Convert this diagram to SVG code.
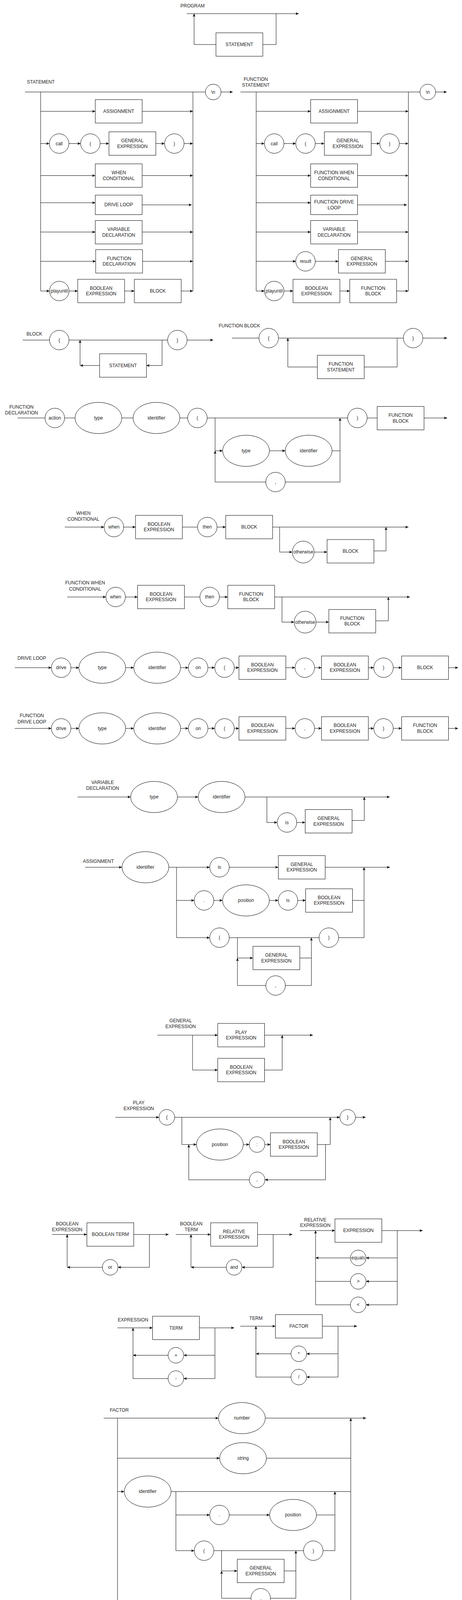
<svg xmlns="http://www.w3.org/2000/svg" width="1183" height="4601" viewBox="0 0 1183 4601">
<defs>
<marker id="arr" viewBox="0 0 8 8" refX="8" refY="4" markerWidth="8" markerHeight="8" markerUnits="userSpaceOnUse" orient="auto">
<path d="M0,0.5 L8,4 L0,7.5 L2,4 Z" fill="#000"/>
</marker>
<style>
rect,ellipse,circle{fill:#fff;stroke:#000;stroke-width:1}
.c path{fill:none;stroke:#000;stroke-width:1}
.c path.a{marker-end:url(#arr)}
text{font-family:"Liberation Sans",Arial,Helvetica,sans-serif;font-size:12px;fill:#222;text-anchor:middle}
</style>
</defs>
<rect x="0" y="0" width="1183" height="4601" style="fill:#fff;stroke:none"/>

<!-- ===== section titles ===== -->
<g id="titles">
<text x="493" y="19">PROGRAM</text>
<text x="104.5" y="214">STATEMENT</text>
<text x="655" y="207">FUNCTION</text><text x="655" y="221.5">STATEMENT</text>
<text x="88" y="858.6">BLOCK</text>
<text x="613" y="838.2">FUNCTION BLOCK</text>
<text x="55" y="1046.3">FUNCTION</text><text x="55" y="1061.3">DECLARATION</text>
<text x="213.5" y="1317.7">WHEN</text><text x="213.5" y="1333">CONDITIONAL</text>
<text x="218" y="1496.3">FUNCTION WHEN</text><text x="218" y="1512">CONDITIONAL</text>
<text x="81.5" y="1689.3">DRIVE LOOP</text>
<text x="81.5" y="1836.3">FUNCTION</text><text x="81.5" y="1851.7">DRIVE LOOP</text>
<text x="262.8" y="2006.8">VARIABLE</text><text x="262.8" y="2021.7">DECLARATION</text>
<text x="251.9" y="2208.9">ASSIGNMENT</text>
<text x="462.4" y="2616.7">GENERAL</text><text x="462.4" y="2631.7">EXPRESSION</text>
<text x="355.2" y="2826.7">PLAY</text><text x="355.2" y="2841.7">EXPRESSION</text>
<text x="172" y="3137">BOOLEAN</text><text x="172" y="3152">EXPRESSION</text>
<text x="489.7" y="3137">BOOLEAN</text><text x="489.7" y="3152">TERM</text>
<text x="807.3" y="3127">RELATIVE</text><text x="807.3" y="3141.3">EXPRESSION</text>
<text x="340.6" y="3383">EXPRESSION</text>
<text x="655.3" y="3378.8">TERM</text>
<text x="305.4" y="3613.7">FACTOR</text>
</g>

<!-- ===== connectors ===== -->
<g id="connectors" class="c">
<!-- PROGRAM -->
<path class="a" d="M478,35 H765"/>
<path class="a" d="M553,114 H497 V35"/>
<path d="M673,114 H707 V35"/>

<!-- STATEMENT -->
<path d="M64,235.5 H526"/>
<path class="a" d="M566,235.5 H596"/>
<path d="M104,235.5 V745"/>
<path d="M494,235.5 V745"/>
<path class="a" d="M104,285 H244"/><path class="a" d="M364,285 H494"/>
<path class="a" d="M104,367.5 H126.4"/><path class="a" d="M176.4,367.5 H206.4"/><path class="a" d="M256.4,367.5 H279"/><path class="a" d="M399,367.5 H421.3"/><path class="a" d="M471.3,367.5 H494"/>
<path class="a" d="M104,449.5 H244"/><path class="a" d="M364,449.5 H494"/>
<path class="a" d="M104,519 H244"/><path class="a" d="M364,524.5 H491"/>
<path class="a" d="M104,594 H244"/><path class="a" d="M364,594 H494"/>
<path class="a" d="M104,669 H245"/><path class="a" d="M365,669 H494"/>
<path class="a" d="M104,745 H126.8"/><path class="a" d="M176.8,745 H199"/><path class="a" d="M319,745 H344"/><path class="a" d="M464,745 H494"/>

<!-- FUNCTION STATEMENT -->
<path d="M615.6,235.5 H1075.4"/>
<path class="a" d="M1115.4,235.5 H1144"/>
<path d="M656,235.5 V745"/>
<path d="M1045.7,235.5 V745"/>
<path class="a" d="M656,285 H795.5"/><path class="a" d="M915.5,285 H1045.7"/>
<path class="a" d="M656,367.5 H677.1"/><path class="a" d="M727.1,367.5 H757.3"/><path class="a" d="M807.3,367.5 H830.5"/><path class="a" d="M950.5,367.5 H972.5"/><path class="a" d="M1022.5,367.5 H1045.7"/>
<path class="a" d="M656,449.5 H795.5"/><path class="a" d="M915.5,449.5 H1045.7"/>
<path class="a" d="M656,519 H795.5"/><path class="a" d="M915.5,524.5 H1042"/>
<path class="a" d="M656,594 H795.5"/><path class="a" d="M915.5,594 H1045.7"/>
<path class="a" d="M656,669 H757.3"/><path class="a" d="M807.3,669 H866.6"/><path class="a" d="M986.6,669 H1045.7"/>
<path class="a" d="M656,745 H677.1"/><path class="a" d="M727.1,745 H750.3"/><path class="a" d="M870.3,745 H895.6"/><path class="a" d="M1015.6,745 H1045.7"/>

<!-- BLOCK -->
<path d="M58,870.6 H126.7"/>
<path d="M176.7,870.6 H429.2"/>
<path class="a" d="M479.2,870.6 H546"/>
<path class="a" d="M415,870.6 V935.7 H375"/>
<path class="a" d="M255,935.7 H205"/>
<path class="a" d="M205,935.7 V870.6"/>

<!-- FUNCTION BLOCK -->
<path d="M593.8,865.5 H663.1"/>
<path d="M713.1,865.5 H1032.8"/>
<path class="a" d="M1082.8,865.5 H1145"/>
<path d="M1017,865.5 V939.5 H932.6"/>
<path class="a" d="M812.6,939.5 H737 V865.5"/>

<!-- FUNCTION DECLARATION -->
<path d="M45,1070 H115.3"/>
<path d="M165.3,1070 H192"/>
<path d="M312,1070 H340.6"/>
<path d="M460.6,1070 H480.5"/>
<path d="M530.5,1070 H890.2"/>
<path d="M940.2,1070 H965.8"/>
<path class="a" d="M1085.8,1070 H1145"/>
<path class="a" d="M550.8,1070 V1154 H570"/>
<path class="a" d="M680.5,1234 H550.8 V1154"/>
<path class="a" d="M690,1154 H730.3"/>
<path d="M850.3,1154 H870.7"/>
<path d="M730.5,1234 H870.7"/>
<path class="a" d="M870.7,1234 V1070"/>

<!-- WHEN CONDITIONAL -->
<path class="a" d="M166,1349.3 H266.6"/>
<path class="a" d="M316.6,1349.3 H347"/>
<path d="M467,1349.3 H505.8"/>
<path class="a" d="M555.8,1349.3 H578"/>
<path class="a" d="M698,1349.3 H1045.7"/>
<path class="a" d="M716,1349.3 V1413.3 H748.4"/>
<path class="a" d="M804.4,1413.3 H837.5"/>
<path class="a" d="M957.5,1410.3 H988.4 V1349.3"/>

<!-- FUNCTION WHEN CONDITIONAL -->
<path class="a" d="M172,1528.3 H271.1"/>
<path class="a" d="M321.1,1528.3 H352.3"/>
<path d="M472.3,1528.3 H511.8"/>
<path class="a" d="M561.8,1528.3 H583.2"/>
<path class="a" d="M703.2,1528.3 H1049.5"/>
<path class="a" d="M722,1528.3 V1592.6 H753.3"/>
<path class="a" d="M809.3,1592.6 H842"/>
<path class="a" d="M962,1589.3 H994.4 V1528.3"/>

<!-- DRIVE LOOP -->
<path class="a" d="M37.7,1709.3 H131.6"/>
<path class="a" d="M181.6,1709.3 H202.2"/>
<path class="a" d="M321.8,1709.3 H342.5"/>
<path class="a" d="M462.5,1709.3 H482.4"/>
<path class="a" d="M532.4,1709.3 H549.9"/>
<path class="a" d="M599.9,1709.3 H611.9"/>
<path class="a" d="M731.9,1709.3 H755.5"/>
<path class="a" d="M805.5,1709.3 H823.2"/>
<path class="a" d="M943.2,1709.3 H957"/>
<path class="a" d="M1007,1709.3 H1028.4"/>
<path class="a" d="M1148.4,1709.3 H1173"/>

<!-- FUNCTION DRIVE LOOP -->
<path class="a" d="M37.7,1864.7 H131.6"/>
<path class="a" d="M181.6,1864.7 H202.2"/>
<path class="a" d="M321.8,1864.7 H342.5"/>
<path class="a" d="M462.5,1864.7 H482.4"/>
<path class="a" d="M532.4,1864.7 H549.9"/>
<path class="a" d="M599.9,1864.7 H611.9"/>
<path class="a" d="M731.9,1864.7 H755.5"/>
<path class="a" d="M805.5,1864.7 H823.2"/>
<path class="a" d="M943.2,1864.7 H957"/>
<path class="a" d="M1007,1864.7 H1028.4"/>
<path class="a" d="M1148.4,1864.7 H1173"/>

<!-- VARIABLE DECLARATION -->
<path class="a" d="M198.8,2040.3 H334.5"/>
<path class="a" d="M454.5,2040.3 H507.4"/>
<path class="a" d="M627.4,2040.3 H998"/>
<path class="a" d="M683.4,2040.3 V2105.5 H709.9"/>
<path class="a" d="M759.9,2105.5 H781.5"/>
<path class="a" d="M901.5,2100.4 H932.8 V2040.3"/>

<!-- ASSIGNMENT -->
<path class="a" d="M217.8,2220.2 H312.3"/>
<path class="a" d="M432.3,2220.2 H537"/>
<path class="a" d="M587,2220.2 H712.7"/>
<path class="a" d="M832.7,2220.2 H998.4"/>
<path d="M452,2220.2 V2400.4"/>
<path class="a" d="M452,2305.1 H497.4"/>
<path class="a" d="M547.4,2305.1 H569.8"/>
<path class="a" d="M689.8,2305.1 H712.4"/>
<path class="a" d="M762.4,2305.1 H782.6"/>
<path d="M902.6,2305.1 H932.2"/>
<path class="a" d="M932.2,2400.4 V2220.2"/>
<path class="a" d="M452,2400.4 H537"/>
<path d="M587,2400.4 H817"/>
<path d="M867,2400.4 H932.2"/>
<path class="a" d="M608,2400.4 V2452.5 H647.7"/>
<path d="M767.7,2452.5 H797.3"/>
<path class="a" d="M797.3,2522.9 V2400.4"/>
<path class="a" d="M680.7,2522.9 H608 V2452.5"/>
<path d="M730.7,2522.9 H797.3"/>

<!-- GENERAL EXPRESSION -->
<path class="a" d="M403,2650 H557.5"/>
<path class="a" d="M677.5,2650 H801"/>
<path class="a" d="M493,2650 V2739.3 H557.5"/>
<path class="a" d="M677.5,2739.3 H722.6 V2650"/>

<!-- PLAY EXPRESSION -->
<path class="a" d="M295.4,2860.3 H407.2"/>
<path class="a" d="M447.2,2860.3 H870.2"/>
<path class="a" d="M910.2,2860.3 H936.4"/>
<path class="a" d="M465.7,2860.3 V2930 H503"/>
<path class="a" d="M623,2930 H638.2"/>
<path class="a" d="M678.2,2930 H692.4"/>
<path class="a" d="M812.4,2930 H845.5 V2860.3"/>
<path class="a" d="M833.5,2930 V3020.3 H678.4"/>
<path class="a" d="M638.4,3020.3 H483.4 V2930"/>

<!-- BOOLEAN EXPRESSION -->
<path class="a" d="M133.2,3160.3 H222.5"/>
<path class="a" d="M342.5,3160.3 H431.7"/>
<path class="a" d="M382.5,3160.3 V3244.3 H302.1"/>
<path class="a" d="M262.1,3244.3 H172"/>
<path class="a" d="M172,3244.3 V3160.3"/>

<!-- BOOLEAN TERM -->
<path class="a" d="M450.2,3160.3 H539.4"/>
<path class="a" d="M659.4,3160.3 H748.6"/>
<path class="a" d="M699.5,3160.3 V3244.3 H619.4"/>
<path class="a" d="M579.4,3244.3 H489"/>
<path class="a" d="M489,3244.3 V3160.3"/>

<!-- RELATIVE EXPRESSION -->
<path class="a" d="M767.8,3150.3 H857.7"/>
<path class="a" d="M977.7,3150.3 H1082.2"/>
<path d="M1017.2,3150.3 V3340.3"/>
<path class="a" d="M1017.2,3220.3 H937.3"/>
<path class="a" d="M897.3,3220.3 H808"/>
<path class="a" d="M1017.2,3280.3 H937.3"/>
<path d="M897.3,3280.3 H808"/>
<path class="a" d="M1017.2,3340.3 H937.3"/>
<path d="M897.3,3340.3 H808"/>
<path class="a" d="M808,3340.3 V3150.3"/>

<!-- EXPRESSION -->
<path class="a" d="M300.4,3399.3 H390.6"/>
<path class="a" d="M510.6,3399.3 H599.5"/>
<path d="M550.4,3399.3 V3529.1"/>
<path class="a" d="M550.4,3469.5 H470.4"/>
<path class="a" d="M430.4,3469.5 H340.6"/>
<path class="a" d="M550.4,3529.1 H470.4"/>
<path class="a" d="M430.4,3529.1 H340.6 V3399.3"/>

<!-- TERM -->
<path class="a" d="M615.2,3395.1 H705.3"/>
<path class="a" d="M825.3,3395.1 H914.2"/>
<path d="M865.6,3395.1 V3525.3"/>
<path class="a" d="M865.6,3465.7 H785.1"/>
<path class="a" d="M745.1,3465.7 H655.3"/>
<path class="a" d="M865.6,3525.3 H785.1"/>
<path class="a" d="M745.1,3525.3 H655.3 V3395.1"/>

<!-- FACTOR -->
<path class="a" d="M265.6,3630.4 H559.4"/>
<path class="a" d="M679.4,3630.4 H937.4"/>
<path d="M300.9,3630.4 V4559.1"/>
<path class="a" d="M898.2,4559.1 V3630.4"/>
<path class="a" d="M300.9,3733 H562.3"/>
<path d="M682.3,3733 H898.2"/>
<path class="a" d="M300.9,3818.4 H318.1"/>
<path d="M438.1,3818.4 H898.2"/>
<path d="M450.4,3818.4 V3969.7"/>
<path class="a" d="M450.4,3878.3 H537"/>
<path class="a" d="M587,3878.3 H690.4"/>
<path d="M810.4,3878.3 H857.6"/>
<path class="a" d="M857.6,3969.7 V3818.4"/>
<path class="a" d="M450.4,3969.7 H497.5"/>
<path d="M547.5,3969.7 H777.2"/>
<path d="M827.2,3969.7 H857.6"/>
<path class="a" d="M567.4,3969.7 V4021.6 H607.6"/>
<path d="M727.6,4021.6 H757.6"/>
<path class="a" d="M757.6,4091.5 V3969.7"/>
<path class="a" d="M642.6,4091.5 H567.4 V4021.6"/>
<path d="M692.6,4091.5 H757.6"/>
<path class="a" d="M300.9,4168.3 H560.3"/>
<path d="M680.3,4168.3 H898.2"/>
<path class="a" d="M300.9,4267.6 H473.5"/>
<path class="a" d="M513.5,4267.6 H563.4"/>
<path d="M683.4,4268 H898.2"/>
<path class="a" d="M300.9,4317.3 H473.5"/>
<path class="a" d="M513.5,4317.3 H543.3 V4267.6"/>
<path class="a" d="M300.9,4366.9 H473.5"/>
<path class="a" d="M513.5,4366.9 H543.3 V4317.3"/>
<path class="a" d="M300.9,4416.1 H472.6"/>
<path class="a" d="M512.6,4416.1 H543.3 V4366.9"/>
<path class="a" d="M300.9,4466.2 H472.4"/>
<path class="a" d="M512.4,4466.2 H560.2"/>
<path class="a" d="M680.2,4466.2 H729.3"/>
<path d="M769.3,4466.2 H898.2"/>
<path class="a" d="M300.9,4559.1 H480.4"/>
<path class="a" d="M600.4,4559.1 H648.5"/>
<path class="a" d="M688.5,4559.1 H723.5"/>
<path d="M763.5,4559.1 H898.2"/>
</g>

<!-- ===== nodes ===== -->
<!-- PROGRAM -->
<g id="prog-statement"><rect x="553" y="84" width="120" height="60"/><text x="613" y="118">STATEMENT</text></g>

<!-- STATEMENT -->
<g id="st-newline"><circle cx="546" cy="235.5" r="20"/><text x="546" y="239.5">\n</text></g>
<g id="st-assignment"><rect x="244" y="255" width="120" height="60"/><text x="304" y="289">ASSIGNMENT</text></g>
<g id="st-call"><circle cx="151.4" cy="367.5" r="25"/><text x="151.4" y="371.5">call</text></g>
<g id="st-lparen"><circle cx="231.4" cy="367.5" r="25"/><text x="231.4" y="371.5">(</text></g>
<g id="st-genexpr"><rect x="279" y="337.5" width="120" height="60"/><text x="339" y="364">GENERAL</text><text x="339" y="378.5">EXPRESSION</text></g>
<g id="st-rparen"><circle cx="446.3" cy="367.5" r="25"/><text x="446.3" y="371.5">)</text></g>
<g id="st-when"><rect x="244" y="419.5" width="120" height="60"/><text x="304" y="446">WHEN</text><text x="304" y="460.5">CONDITIONAL</text></g>
<g id="st-drive"><rect x="244" y="499.5" width="120" height="50"/><text x="304" y="527.5">DRIVE LOOP</text></g>
<g id="st-vardecl"><rect x="244" y="564.5" width="120" height="60"/><text x="304" y="591">VARIABLE</text><text x="304" y="605.5">DECLARATION</text></g>
<g id="st-funcdecl"><rect x="245" y="639" width="120" height="60"/><text x="305" y="665.5">FUNCTION</text><text x="305" y="680">DECLARATION</text></g>
<g id="st-playuntil"><circle cx="151.8" cy="745" r="25"/><text x="151.8" y="749">playuntil</text></g>
<g id="st-boolexpr"><rect x="199" y="715" width="120" height="60"/><text x="259" y="741.5">BOOLEAN</text><text x="259" y="756">EXPRESSION</text></g>
<g id="st-block"><rect x="344" y="715" width="120" height="60"/><text x="404" y="749">BLOCK</text></g>

<!-- FUNCTION STATEMENT -->
<g id="fs-newline"><circle cx="1095.4" cy="235.5" r="20"/><text x="1095.4" y="239.5">\n</text></g>
<g id="fs-assignment"><rect x="795.5" y="255" width="120" height="60"/><text x="855.5" y="289">ASSIGNMENT</text></g>
<g id="fs-call"><circle cx="702.1" cy="367.5" r="25"/><text x="702.1" y="371.5">call</text></g>
<g id="fs-lparen"><circle cx="782.3" cy="367.5" r="25"/><text x="782.3" y="371.5">(</text></g>
<g id="fs-genexpr"><rect x="830.5" y="337.5" width="120" height="60"/><text x="890.5" y="364">GENERAL</text><text x="890.5" y="378.5">EXPRESSION</text></g>
<g id="fs-rparen"><circle cx="997.5" cy="367.5" r="25"/><text x="997.5" y="371.5">)</text></g>
<g id="fs-when"><rect x="795.5" y="419.5" width="120" height="60"/><text x="855.5" y="446">FUNCTION WHEN</text><text x="855.5" y="460.5">CONDITIONAL</text></g>
<g id="fs-drive"><rect x="795.5" y="499.5" width="120" height="50"/><text x="855.5" y="521">FUNCTION DRIVE</text><text x="855.5" y="535.5">LOOP</text></g>
<g id="fs-vardecl"><rect x="795.5" y="564.5" width="120" height="60"/><text x="855.5" y="591">VARIABLE</text><text x="855.5" y="605.5">DECLARATION</text></g>
<g id="fs-result"><circle cx="782.3" cy="669" r="25"/><text x="782.3" y="673">result</text></g>
<g id="fs-result-genexpr"><rect x="866.6" y="639" width="120" height="60"/><text x="926.6" y="665.5">GENERAL</text><text x="926.6" y="680">EXPRESSION</text></g>
<g id="fs-playuntil"><circle cx="702.1" cy="745" r="25"/><text x="702.1" y="749">playuntil</text></g>
<g id="fs-boolexpr"><rect x="750.3" y="715" width="120" height="60"/><text x="810.3" y="741.5">BOOLEAN</text><text x="810.3" y="756">EXPRESSION</text></g>
<g id="fs-funcblock"><rect x="895.6" y="715" width="120" height="60"/><text x="955.6" y="741.5">FUNCTION</text><text x="955.6" y="756">BLOCK</text></g>

<!-- BLOCK -->
<g id="bl-lbrace"><circle cx="151.7" cy="870.6" r="25"/><text x="151.7" y="874.6">{</text></g>
<g id="bl-rbrace"><circle cx="454.2" cy="870.6" r="25"/><text x="454.2" y="874.6">}</text></g>
<g id="bl-statement"><rect x="255" y="905.7" width="120" height="60"/><text x="315" y="939.7">STATEMENT</text></g>

<!-- FUNCTION BLOCK -->
<g id="fb-lbrace"><circle cx="688.1" cy="865.5" r="25"/><text x="688.1" y="869.5">{</text></g>
<g id="fb-rbrace"><circle cx="1057.8" cy="865.5" r="25"/><text x="1057.8" y="869.5">}</text></g>
<g id="fb-statement"><rect x="812.6" y="909.5" width="120" height="60"/><text x="872.6" y="936">FUNCTION</text><text x="872.6" y="950.5">STATEMENT</text></g>

<!-- FUNCTION DECLARATION -->
<g id="fd-action"><circle cx="140.3" cy="1070" r="25"/><text x="140.3" y="1074">action</text></g>
<g id="fd-type"><ellipse cx="252" cy="1070" rx="60" ry="40"/><text x="252" y="1074">type</text></g>
<g id="fd-identifier"><ellipse cx="400.6" cy="1070" rx="60" ry="40"/><text x="400.6" y="1074">identifier</text></g>
<g id="fd-lparen"><circle cx="505.5" cy="1070" r="25"/><text x="505.5" y="1074">(</text></g>
<g id="fd-rparen"><circle cx="915.2" cy="1070" r="25"/><text x="915.2" y="1074">)</text></g>
<g id="fd-funcblock"><rect x="965.8" y="1040.5" width="120" height="60"/><text x="1025.8" y="1067">FUNCTION</text><text x="1025.8" y="1081.5">BLOCK</text></g>
<g id="fd-type2"><ellipse cx="630" cy="1154" rx="60" ry="40"/><text x="630" y="1158">type</text></g>
<g id="fd-identifier2"><ellipse cx="790.3" cy="1154" rx="60" ry="40"/><text x="790.3" y="1158">identifier</text></g>
<g id="fd-comma"><circle cx="705.5" cy="1234" r="25"/><text x="705.5" y="1238">,</text></g>

<!-- WHEN CONDITIONAL -->
<g id="wc-when"><circle cx="291.6" cy="1349.3" r="25"/><text x="291.6" y="1353.3">when</text></g>
<g id="wc-boolexpr"><rect x="347" y="1319.3" width="120" height="60"/><text x="407" y="1345.8">BOOLEAN</text><text x="407" y="1360.3">EXPRESSION</text></g>
<g id="wc-then"><circle cx="530.8" cy="1349.3" r="25"/><text x="530.8" y="1353.3">then</text></g>
<g id="wc-block"><rect x="578" y="1319.3" width="120" height="60"/><text x="638" y="1353.3">BLOCK</text></g>
<g id="wc-otherwise"><circle cx="776.4" cy="1413.3" r="28"/><text x="776.4" y="1417.3">otherwise</text></g>
<g id="wc-block2"><rect x="837.5" y="1381.3" width="120" height="60"/><text x="897.5" y="1415.3">BLOCK</text></g>

<!-- FUNCTION WHEN CONDITIONAL -->
<g id="fwc-when"><circle cx="296.1" cy="1528.3" r="25"/><text x="296.1" y="1532.3">when</text></g>
<g id="fwc-boolexpr"><rect x="352.3" y="1498.3" width="120" height="60"/><text x="412.3" y="1524.8">BOOLEAN</text><text x="412.3" y="1539.3">EXPRESSION</text></g>
<g id="fwc-then"><circle cx="536.8" cy="1528.3" r="25"/><text x="536.8" y="1532.3">then</text></g>
<g id="fwc-funcblock"><rect x="583.2" y="1498.3" width="120" height="60"/><text x="643.2" y="1524.8">FUNCTION</text><text x="643.2" y="1539.3">BLOCK</text></g>
<g id="fwc-otherwise"><circle cx="781.3" cy="1592.6" r="28"/><text x="781.3" y="1596.6">otherwise</text></g>
<g id="fwc-funcblock2"><rect x="842" y="1560.3" width="120" height="60"/><text x="902" y="1586.8">FUNCTION</text><text x="902" y="1601.3">BLOCK</text></g>

<!-- DRIVE LOOP -->
<g id="dl-drive"><circle cx="156.6" cy="1709.3" r="25"/><text x="156.6" y="1713.3">drive</text></g>
<g id="dl-type"><ellipse cx="261.8" cy="1709.3" rx="60" ry="40"/><text x="261.8" y="1713.3">type</text></g>
<g id="dl-identifier"><ellipse cx="402.5" cy="1709.3" rx="60" ry="40"/><text x="402.5" y="1713.3">identifier</text></g>
<g id="dl-on"><circle cx="507.4" cy="1709.3" r="25"/><text x="507.4" y="1713.3">on</text></g>
<g id="dl-lparen"><circle cx="574.9" cy="1709.3" r="25"/><text x="574.9" y="1713.3">(</text></g>
<g id="dl-bool1"><rect x="611.9" y="1679.3" width="120" height="60"/><text x="671.9" y="1705.8">BOOLEAN</text><text x="671.9" y="1720.3">EXPRESSION</text></g>
<g id="dl-comma"><circle cx="780.5" cy="1709.3" r="25"/><text x="780.5" y="1713.3">,</text></g>
<g id="dl-bool2"><rect x="823.2" y="1679.3" width="120" height="60"/><text x="883.2" y="1705.8">BOOLEAN</text><text x="883.2" y="1720.3">EXPRESSION</text></g>
<g id="dl-rparen"><circle cx="982" cy="1709.3" r="25"/><text x="982" y="1713.3">)</text></g>
<g id="dl-block"><rect x="1028.4" y="1679.3" width="120" height="60"/><text x="1088.4" y="1713.3">BLOCK</text></g>

<!-- FUNCTION DRIVE LOOP -->
<g id="fdl-drive"><circle cx="156.6" cy="1864.7" r="25"/><text x="156.6" y="1868.7">drive</text></g>
<g id="fdl-type"><ellipse cx="261.8" cy="1864.7" rx="60" ry="40"/><text x="261.8" y="1868.7">type</text></g>
<g id="fdl-identifier"><ellipse cx="402.5" cy="1864.7" rx="60" ry="40"/><text x="402.5" y="1868.7">identifier</text></g>
<g id="fdl-on"><circle cx="507.4" cy="1864.7" r="25"/><text x="507.4" y="1868.7">on</text></g>
<g id="fdl-lparen"><circle cx="574.9" cy="1864.7" r="25"/><text x="574.9" y="1868.7">(</text></g>
<g id="fdl-bool1"><rect x="611.9" y="1834.7" width="120" height="60"/><text x="671.9" y="1861.2">BOOLEAN</text><text x="671.9" y="1875.7">EXPRESSION</text></g>
<g id="fdl-comma"><circle cx="780.5" cy="1864.7" r="25"/><text x="780.5" y="1868.7">,</text></g>
<g id="fdl-bool2"><rect x="823.2" y="1834.7" width="120" height="60"/><text x="883.2" y="1861.2">BOOLEAN</text><text x="883.2" y="1875.7">EXPRESSION</text></g>
<g id="fdl-rparen"><circle cx="982" cy="1864.7" r="25"/><text x="982" y="1868.7">)</text></g>
<g id="fdl-funcblock"><rect x="1028.4" y="1834.7" width="120" height="60"/><text x="1088.4" y="1861.2">FUNCTION</text><text x="1088.4" y="1875.7">BLOCK</text></g>

<!-- VARIABLE DECLARATION -->
<g id="vd-type"><ellipse cx="394.5" cy="2040.3" rx="60" ry="40"/><text x="394.5" y="2044.3">type</text></g>
<g id="vd-identifier"><ellipse cx="567.4" cy="2040.3" rx="60" ry="40"/><text x="567.4" y="2044.3">identifier</text></g>
<g id="vd-is"><circle cx="734.9" cy="2105.5" r="25"/><text x="734.9" y="2109.5">is</text></g>
<g id="vd-genexpr"><rect x="781.5" y="2072.5" width="120" height="60"/><text x="841.5" y="2099">GENERAL</text><text x="841.5" y="2113.5">EXPRESSION</text></g>

<!-- ASSIGNMENT -->
<g id="as-identifier"><ellipse cx="372.3" cy="2220.2" rx="60" ry="40"/><text x="372.3" y="2224.2">identifier</text></g>
<g id="as-is"><circle cx="562" cy="2220.2" r="25"/><text x="562" y="2224.2">is</text></g>
<g id="as-genexpr"><rect x="712.7" y="2190.3" width="120" height="60"/><text x="772.7" y="2216.8">GENERAL</text><text x="772.7" y="2231.3">EXPRESSION</text></g>
<g id="as-dot"><circle cx="522.4" cy="2305.1" r="25"/><text x="522.4" y="2309.1">.</text></g>
<g id="as-position"><ellipse cx="629.8" cy="2305.1" rx="60" ry="40"/><text x="629.8" y="2309.1">position</text></g>
<g id="as-is2"><circle cx="737.4" cy="2305.1" r="25"/><text x="737.4" y="2309.1">is</text></g>
<g id="as-boolexpr"><rect x="782.6" y="2275.3" width="120" height="60"/><text x="842.6" y="2301.8">BOOLEAN</text><text x="842.6" y="2316.3">EXPRESSION</text></g>
<g id="as-lparen"><circle cx="562" cy="2400.4" r="25"/><text x="562" y="2404.4">(</text></g>
<g id="as-rparen"><circle cx="842" cy="2400.4" r="25"/><text x="842" y="2404.4">)</text></g>
<g id="as-genexpr2"><rect x="647.7" y="2422.5" width="120" height="60"/><text x="707.7" y="2449">GENERAL</text><text x="707.7" y="2463.5">EXPRESSION</text></g>
<g id="as-comma"><circle cx="705.7" cy="2522.9" r="25"/><text x="705.7" y="2526.9">,</text></g>

<!-- GENERAL EXPRESSION -->
<g id="ge-play"><rect x="557.5" y="2620" width="120" height="60"/><text x="617.5" y="2646.5">PLAY</text><text x="617.5" y="2661">EXPRESSION</text></g>
<g id="ge-bool"><rect x="557.5" y="2709.3" width="120" height="60"/><text x="617.5" y="2735.8">BOOLEAN</text><text x="617.5" y="2750.3">EXPRESSION</text></g>

<!-- PLAY EXPRESSION -->
<g id="pe-lbrace"><circle cx="427.2" cy="2860.3" r="20"/><text x="427.2" y="2864.3">{</text></g>
<g id="pe-rbrace"><circle cx="890.2" cy="2860.3" r="20"/><text x="890.2" y="2864.3">}</text></g>
<g id="pe-position"><ellipse cx="563" cy="2930" rx="60" ry="40"/><text x="563" y="2934">position</text></g>
<g id="pe-colon"><circle cx="658.2" cy="2930" r="20"/><text x="658.2" y="2934">:</text></g>
<g id="pe-bool"><rect x="692.4" y="2900" width="120" height="60"/><text x="752.4" y="2926.5">BOOLEAN</text><text x="752.4" y="2941">EXPRESSION</text></g>
<g id="pe-comma"><circle cx="658.4" cy="3020.3" r="20"/><text x="658.4" y="3024.3">,</text></g>

<!-- BOOLEAN EXPRESSION -->
<g id="be-term"><rect x="222.5" y="3130.3" width="120" height="60"/><text x="282.5" y="3164.3">BOOLEAN TERM</text></g>
<g id="be-or"><circle cx="282.1" cy="3244.3" r="20"/><text x="282.1" y="3248.3">or</text></g>

<!-- BOOLEAN TERM -->
<g id="bt-rel"><rect x="539.4" y="3130.3" width="120" height="60"/><text x="599.4" y="3156.8">RELATIVE</text><text x="599.4" y="3171.3">EXPRESSION</text></g>
<g id="bt-and"><circle cx="599.4" cy="3244.3" r="20"/><text x="599.4" y="3248.3">and</text></g>

<!-- RELATIVE EXPRESSION -->
<g id="re-expr"><rect x="857.7" y="3120.3" width="120" height="60"/><text x="917.7" y="3154.3">EXPRESSION</text></g>
<g id="re-equals"><circle cx="917.3" cy="3220.3" r="20"/><text x="917.3" y="3224.3">equals</text></g>
<g id="re-gt"><circle cx="917.3" cy="3280.3" r="20"/><text x="917.3" y="3284.3">&gt;</text></g>
<g id="re-lt"><circle cx="917.3" cy="3340.3" r="20"/><text x="917.3" y="3344.3">&lt;</text></g>

<!-- EXPRESSION -->
<g id="ex-term"><rect x="390.6" y="3369.5" width="120" height="60"/><text x="450.6" y="3403.5">TERM</text></g>
<g id="ex-plus"><circle cx="450.4" cy="3469.5" r="20"/><text x="450.4" y="3473.5">+</text></g>
<g id="ex-minus"><circle cx="450.4" cy="3529.1" r="20"/><text x="450.4" y="3533.1">-</text></g>

<!-- TERM -->
<g id="tm-factor"><rect x="705.3" y="3365.4" width="120" height="60"/><text x="765.3" y="3399.4">FACTOR</text></g>
<g id="tm-mul"><circle cx="765.1" cy="3465.7" r="20"/><text x="765.1" y="3469.7">*</text></g>
<g id="tm-div"><circle cx="765.1" cy="3525.3" r="20"/><text x="765.1" y="3529.3">/</text></g>

<!-- FACTOR -->
<g id="fa-number"><ellipse cx="619.4" cy="3630.4" rx="60" ry="40"/><text x="619.4" y="3634.4">number</text></g>
<g id="fa-string"><ellipse cx="622.3" cy="3733" rx="60" ry="40"/><text x="622.3" y="3737">string</text></g>
<g id="fa-identifier"><ellipse cx="378.1" cy="3818.4" rx="60" ry="40"/><text x="378.1" y="3822.4">identifier</text></g>
<g id="fa-dot"><circle cx="562" cy="3878.3" r="25"/><text x="562" y="3882.3">.</text></g>
<g id="fa-position"><ellipse cx="750.4" cy="3878.3" rx="60" ry="40"/><text x="750.4" y="3882.3">position</text></g>
<g id="fa-lparen"><circle cx="522.5" cy="3969.7" r="25"/><text x="522.5" y="3973.7">(</text></g>
<g id="fa-rparen"><circle cx="802.2" cy="3969.7" r="25"/><text x="802.2" y="3973.7">)</text></g>
<g id="fa-genexpr"><rect x="607.6" y="3991.6" width="120" height="60"/><text x="667.6" y="4018.1">GENERAL</text><text x="667.6" y="4032.6">EXPRESSION</text></g>
<g id="fa-comma"><circle cx="667.6" cy="4091.5" r="25"/><text x="667.6" y="4095.5">,</text></g>
<g id="fa-down"><ellipse cx="620.3" cy="4168.3" rx="60" ry="40"/><text x="620.3" y="4172.3">down</text></g>
<g id="fa-plus"><circle cx="493.5" cy="4267.6" r="20"/><text x="493.5" y="4271.6">+</text></g>
<g id="fa-factor"><rect x="563.4" y="4237.6" width="120" height="60"/><text x="623.4" y="4271.6">FACTOR</text></g>
<g id="fa-minus"><circle cx="493.5" cy="4317.3" r="20"/><text x="493.5" y="4321.3">-</text></g>
<g id="fa-not"><circle cx="493.5" cy="4366.9" r="20"/><text x="493.5" y="4370.9">not</text></g>
<g id="fa-shift"><circle cx="492.6" cy="4416.1" r="20"/><text x="492.6" y="4420.1">&gt;&gt;</text></g>
<g id="fa-lparen2"><circle cx="492.4" cy="4466.2" r="20"/><text x="492.4" y="4470.2">(</text></g>
<g id="fa-boolexpr"><rect x="560.2" y="4436.2" width="120" height="60"/><text x="620.2" y="4462.7">BOOLEAN</text><text x="620.2" y="4477.2">EXPRESSION</text></g>
<g id="fa-rparen2"><circle cx="749.3" cy="4466.2" r="20"/><text x="749.3" y="4470.2">)</text></g>
<g id="fa-signal"><ellipse cx="540.4" cy="4559.1" rx="60" ry="40"/><text x="540.4" y="4563.1">signal</text></g>
<g id="fa-lparen3"><circle cx="668.5" cy="4559.1" r="20"/><text x="668.5" y="4563.1">(</text></g>
<g id="fa-rparen3"><circle cx="743.5" cy="4559.1" r="20"/><text x="743.5" y="4563.1">)</text></g>
</svg>
